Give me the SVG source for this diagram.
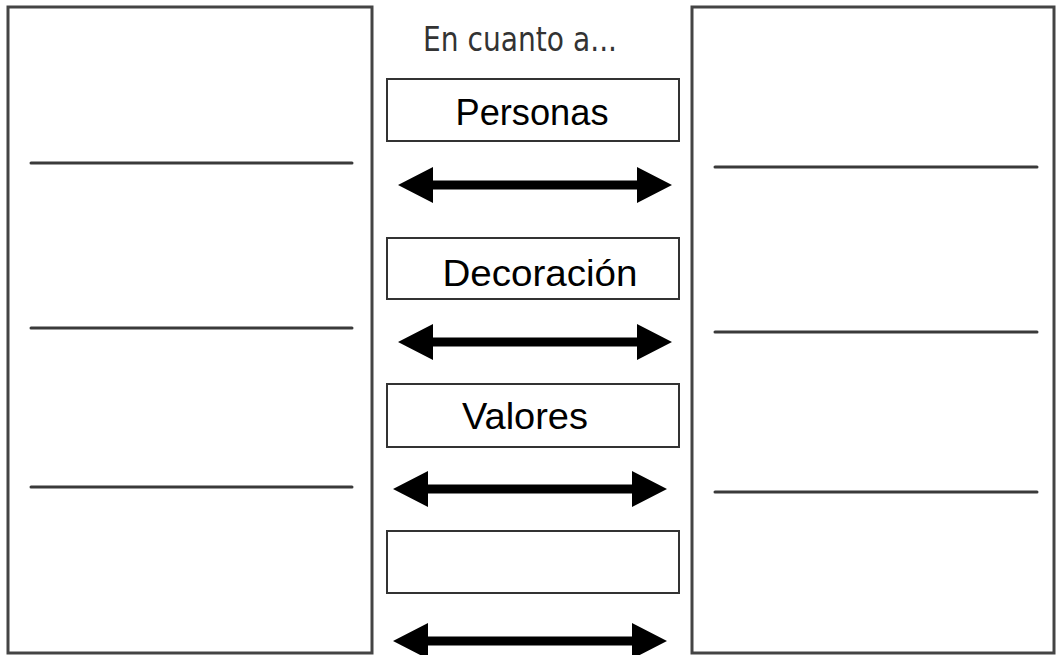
<svg xmlns="http://www.w3.org/2000/svg" width="1056" height="655" viewBox="0 0 1056 655">
<defs>
<style>
.panel{fill:#fff;stroke:#444;stroke-width:3}
.rule{stroke:#3a3a3a;stroke-width:3;stroke-linecap:round}
.box{fill:#fff;stroke:#333;stroke-width:2}
.lbl{font-family:"Liberation Sans",Arial,sans-serif;font-size:36px;fill:#000;text-anchor:middle}
.title{font-family:"DejaVu Sans","Liberation Sans",sans-serif;font-size:33px;fill:#333;text-anchor:middle}
.arrow{fill:#000}
</style>
<path id="dbl" d="M0,0 L35,-18 L35,-4.5 L239,-4.5 L239,-18 L274,0 L239,18 L239,4.5 L35,4.5 L35,18 Z"/>
</defs>
<rect width="1056" height="655" fill="#fff"/>
<g id="left-panel">
<rect class="panel" x="8" y="7" width="364" height="646"/>
<line class="rule" x1="31" y1="163" x2="352" y2="163"/>
<line class="rule" x1="31" y1="328" x2="352" y2="328"/>
<line class="rule" x1="31" y1="487" x2="352" y2="487"/>
</g>
<g id="right-panel">
<rect class="panel" x="692" y="7" width="362" height="646"/>
<line class="rule" x1="715" y1="167" x2="1037" y2="167"/>
<line class="rule" x1="715" y1="332" x2="1037" y2="332"/>
<line class="rule" x1="715" y1="492" x2="1037" y2="492"/>
</g>
<g id="title">
<text class="title" x="520" y="51" textLength="194" lengthAdjust="spacingAndGlyphs">En cuanto a...</text>
</g>
<g id="box-personas">
<rect class="box" x="387" y="79" width="292" height="62"/>
<text class="lbl" x="532" y="125" textLength="153" lengthAdjust="spacingAndGlyphs">Personas</text>
</g>
<g id="box-decoracion">
<rect class="box" x="387" y="238" width="292" height="61"/>
<text class="lbl" x="540" y="286" textLength="195" lengthAdjust="spacingAndGlyphs">Decoración</text>
</g>
<g id="box-valores">
<rect class="box" x="387" y="384" width="292" height="63"/>
<text class="lbl" x="525" y="429" textLength="126" lengthAdjust="spacingAndGlyphs">Valores</text>
</g>
<g id="box-empty">
<rect class="box" x="387" y="531" width="292" height="62"/>
</g>
<g id="connectors" class="arrow">
<use href="#dbl" x="398" y="185"/>
<use href="#dbl" x="398" y="342"/>
<use href="#dbl" x="393" y="489"/>
<use href="#dbl" x="393" y="641"/>
</g>
</svg>
